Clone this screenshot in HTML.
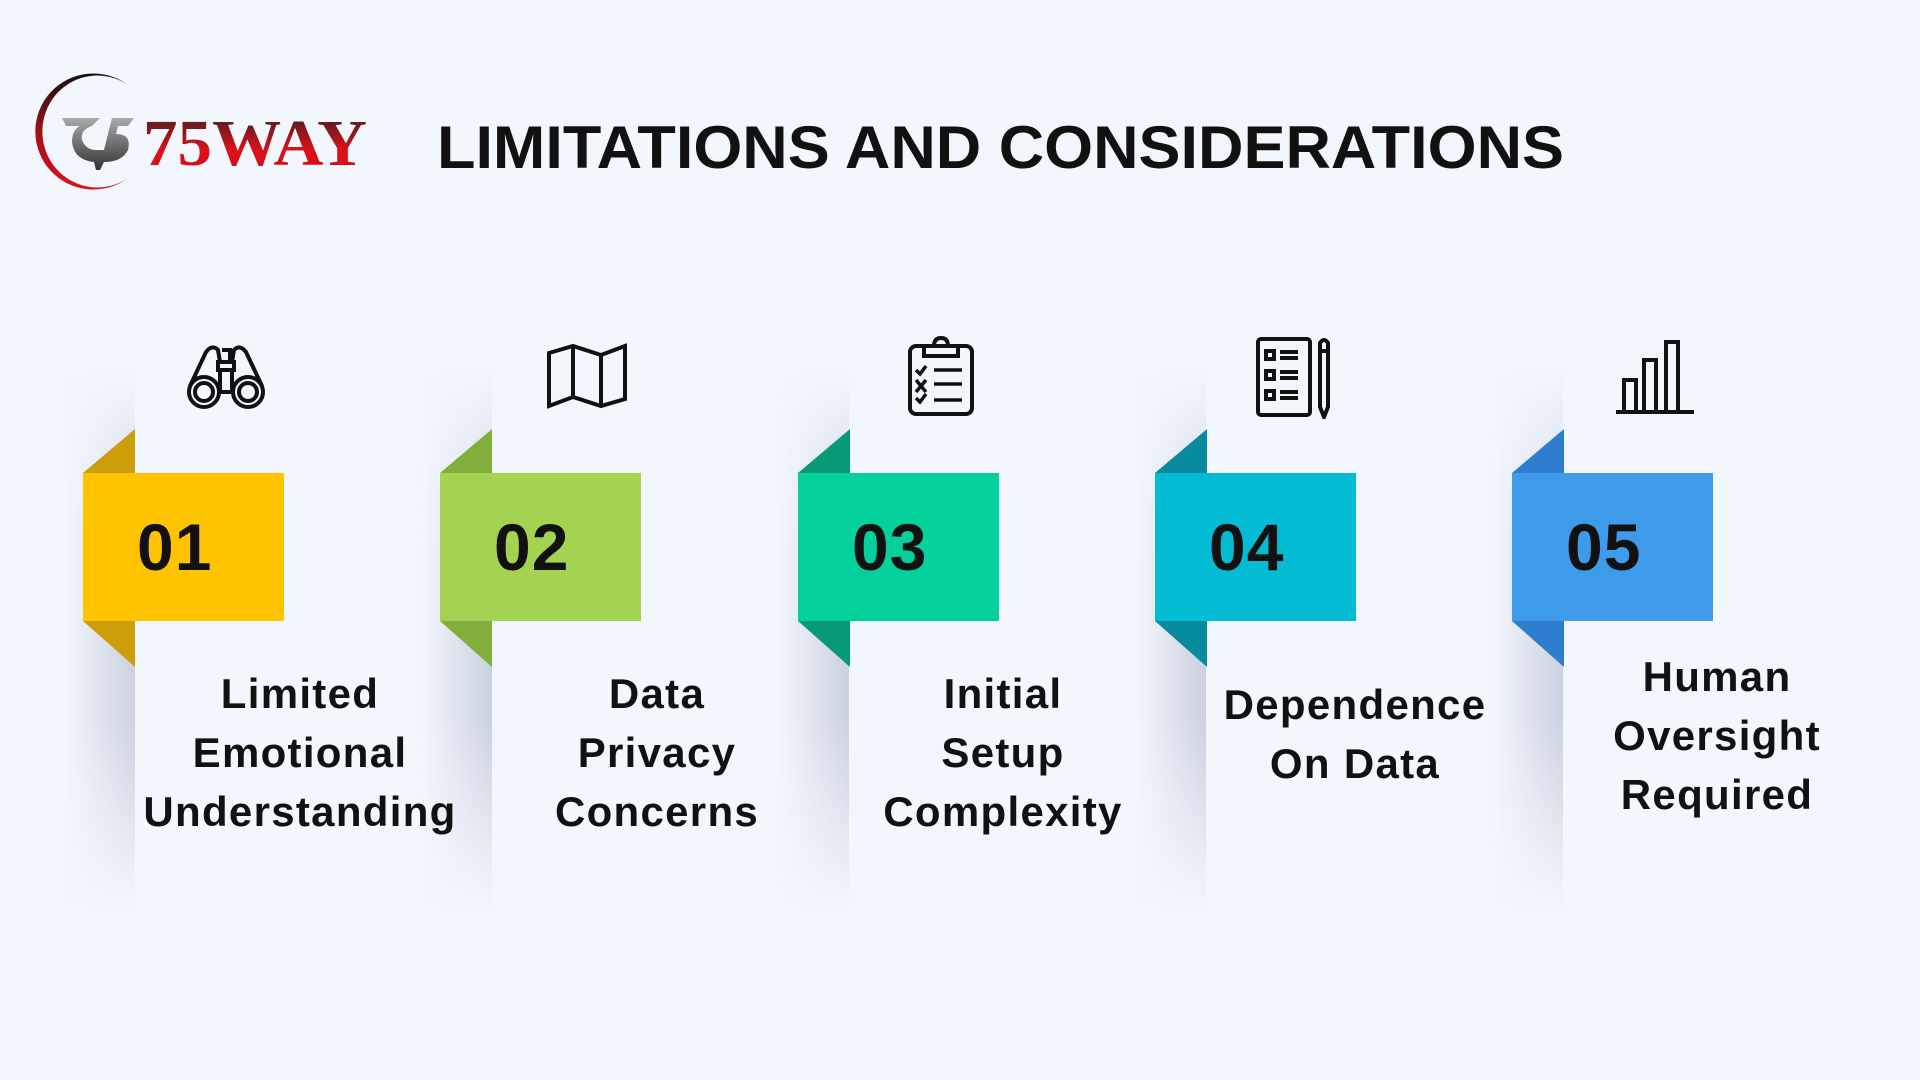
<!DOCTYPE html>
<html><head><meta charset="utf-8"><style>
*{margin:0;padding:0;box-sizing:border-box}
body{width:1920px;height:1080px;background:#F2F7FE;position:relative;overflow:hidden;font-family:"Liberation Sans",sans-serif}
.sh{position:absolute;width:70px;top:370px;height:540px;background:linear-gradient(to right,rgba(200,205,218,0),rgba(190,196,212,0.75));
-webkit-mask-image:linear-gradient(to bottom,transparent 0%,#000 35%,#000 65%,transparent 100%);mask-image:linear-gradient(to bottom,transparent 0%,#000 35%,#000 65%,transparent 100%)}
.box{position:absolute;top:473px;width:201px;height:148px}
.num{position:absolute;top:473px;height:148px;line-height:148px;font-weight:bold;font-size:66px;color:#111;letter-spacing:1px}
.txt{position:absolute;width:380px;text-align:center;font-weight:bold;font-size:42px;letter-spacing:1.3px;line-height:59px;color:#111}
svg.ic{position:absolute;fill:none;stroke:#111;stroke-width:4}
</style></head><body>

<svg style="position:absolute;left:0;top:0" width="420" height="220">
<defs>
<linearGradient id="rg" x1="0" y1="0" x2="0" y2="1"><stop offset="0" stop-color="#222"/><stop offset="0.6" stop-color="#e0101a"/><stop offset="1" stop-color="#c0101a"/></linearGradient>
<linearGradient id="ag" x1="0" y1="0" x2="0" y2="1"><stop offset="0" stop-color="#111"/><stop offset="0.5" stop-color="#a01018"/><stop offset="1" stop-color="#e0101a"/></linearGradient>
<linearGradient id="gg" x1="0" y1="0" x2="0" y2="1"><stop offset="0" stop-color="#aaa"/><stop offset="1" stop-color="#333"/></linearGradient>
</defs>
<path d="M128 85 A58 58 0 1 0 128 178 A55 56 0 1 1 128 85 Z" fill="url(#ag)"/>
<path d="M62 118 L100 118 L92 126 Q80 130 82 140 Q86 150 96 150 L104 150 L112 118 L134 118 L128 126 L118 126 L116 134 Q132 134 128 150 Q122 162 104 162 L100 170 L96 170 L94 162 Q74 160 72 142 Q72 130 80 126 L66 126 Z" fill="url(#gg)"/>
<text x="143" y="165" font-family="Liberation Serif" font-weight="bold" font-size="66" fill="url(#rg)" textLength="224" lengthAdjust="spacingAndGlyphs">75WAY</text>
</svg>

<svg style="position:absolute;left:0;top:0" width="1920" height="220">
<text x="437" y="168" font-family="Liberation Sans" font-weight="bold" font-size="60" fill="#111" textLength="1127" lengthAdjust="spacingAndGlyphs">LIMITATIONS AND CONSIDERATIONS</text>
</svg>

<div class="sh" style="left:65px"></div>
<div class="sh" style="left:422px"></div>
<div class="sh" style="left:779px"></div>
<div class="sh" style="left:1136px"></div>
<div class="sh" style="left:1493px"></div>

<svg style="position:absolute;left:0;top:0" width="1920" height="1080">
<polygon points="83,473 135,429 135,473" fill="#CC9E0A"/><polygon points="83,621 135,667 135,621" fill="#CC9E0A"/>
<polygon points="440,473 492,429 492,473" fill="#82AE3C"/><polygon points="440,621 492,667 492,621" fill="#82AE3C"/>
<polygon points="798,473 850,429 850,473" fill="#079A77"/><polygon points="798,621 850,667 850,621" fill="#079A77"/>
<polygon points="1155,473 1207,429 1207,473" fill="#068C9E"/><polygon points="1155,621 1207,667 1207,621" fill="#068C9E"/>
<polygon points="1512,473 1564,429 1564,473" fill="#2E7DCE"/><polygon points="1512,621 1564,667 1564,621" fill="#2E7DCE"/>
</svg>

<div class="box" style="left:83px;background:#FFC300"></div>
<div class="box" style="left:440px;background:#A3D350"></div>
<div class="box" style="left:798px;background:#03D09A"></div>
<div class="box" style="left:1155px;background:#03BBD3"></div>
<div class="box" style="left:1512px;background:#3D9BE9"></div>

<div class="num" style="left:137px">01</div>
<div class="num" style="left:494px">02</div>
<div class="num" style="left:852px">03</div>
<div class="num" style="left:1209px">04</div>
<div class="num" style="left:1566px">05</div>

<div class="txt" style="left:110px;top:664px">Limited<br>Emotional<br>Understanding</div>
<div class="txt" style="left:467px;top:664px">Data<br>Privacy<br>Concerns</div>
<div class="txt" style="left:813px;top:664px">Initial<br>Setup<br>Complexity</div>
<div class="txt" style="left:1165px;top:675px">Dependence<br>On Data</div>
<div class="txt" style="left:1527px;top:647px">Human<br>Oversight<br>Required</div>

<svg class="ic" style="left:184px;top:342px" width="86" height="70" viewBox="0 0 86 70">
<circle cx="20" cy="50" r="15"/><circle cx="20" cy="50" r="9"/><circle cx="64" cy="50" r="15"/><circle cx="64" cy="50" r="9"/>
<path d="M6 44 L22 10 Q28 2 34 8 L36 20 M78 44 L62 10 Q56 2 50 8 L48 20 M34 20 H50 V28 H34 Z M38 8 H46 V20 M36 28 V50 M48 28 V50 M35 50 H49"/>
</svg>
<svg class="ic" style="left:546px;top:343px" width="82" height="66" viewBox="0 0 82 66">
<path d="M3 10 L27 3 L55 12 L79 3 L79 56 L55 63 L27 54 L3 63 Z M27 3 V54 M55 12 V63"/>
</svg>
<svg class="ic" style="left:906px;top:336px" width="72" height="82" viewBox="0 0 72 82">
<rect x="4" y="10" width="62" height="68" rx="6"/><path d="M18 10 V20 H52 V10 H42 Q42 2 35 2 Q28 2 28 10 Z"/>
<path d="M10 34 l4 4 l6 -8 M28 34 H56 M10 44 l10 12 M20 44 l-10 12 M28 48 H56 M10 62 l4 4 l6 -8 M28 64 H56" stroke-width="3.5"/>
</svg>
<svg class="ic" style="left:1254px;top:335px" width="84" height="84" viewBox="0 0 84 84">
<rect x="4" y="4" width="52" height="76" rx="3"/>
<rect x="12" y="16" width="8" height="8"/><rect x="12" y="36" width="8" height="8"/><rect x="12" y="56" width="8" height="8"/>
<path d="M26 17 H44 M26 23 H44 M26 37 H44 M26 43 H44 M26 57 H44 M26 63 H44 M66 8 Q70 2 74 8 V72 L70 82 L66 72 Z M66 16 H74"/>
</svg>
<svg class="ic" style="left:1614px;top:338px" width="82" height="78" viewBox="0 0 82 78">
<path d="M2 74 H80 M10 74 V42 H22 V74 M30 74 V22 H42 V74 M52 74 V4 H64 V74"/>
</svg>
</body></html>
